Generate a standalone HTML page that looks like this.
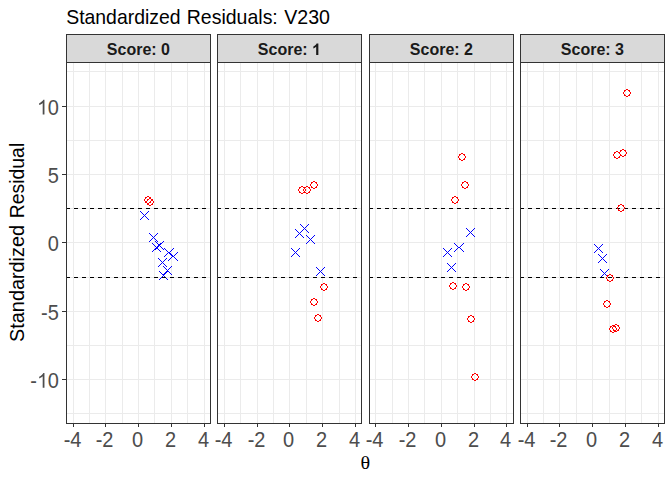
<!DOCTYPE html>
<html><head><meta charset="utf-8"><title>Standardized Residuals: V230</title>
<style>
html,body{margin:0;padding:0;background:#fff;}
svg{display:block;}
text{font-family:"Liberation Sans",sans-serif;}
.ax{font-size:21.6px;fill:#4d4d4d;}
.ti{font-size:21px;fill:#000;}
.st{font-size:16px;font-weight:bold;fill:#1a1a1a;text-anchor:middle;}
</style></head><body>
<svg width="672" height="480" viewBox="0 0 672 480">
<defs>
<path id="c" fill="#ff0000" shape-rendering="crispEdges" d="M-1-4h2v1h-2zM-3-3h2v1h-2zM1-3h2v1h-2zM-3-2h1v1h-1zM2-2h1v1h-1zM-4-1h1v2h-1zM3-1h1v2h-1zM-3 1h1v1h-1zM2 1h1v1h-1zM-3 2h2v1h-2zM1 2h2v1h-2zM-1 3h2v1h-2z"/>
<path id="x" fill="#0000ff" shape-rendering="crispEdges" d="M-4 -4h1v1h-1zM-4 4h1v1h-1zM-3 -3h1v1h-1zM-3 3h1v1h-1zM-2 -2h1v1h-1zM-2 2h1v1h-1zM-1 -1h1v1h-1zM-1 1h1v1h-1zM0 0h1v1h-1zM1 1h1v1h-1zM1 -1h1v1h-1zM2 2h1v1h-1zM2 -2h1v1h-1zM3 3h1v1h-1zM3 -3h1v1h-1zM4 4h1v1h-1zM4 -4h1v1h-1z"/>
<path id="x2" fill="#0000ff" shape-rendering="crispEdges" d="M0 0h2v1h-2zM-1 -1h1v1h-1zM-1 1h1v1h-1zM2 -1h1v1h-1zM2 1h1v1h-1zM-2 -2h1v1h-1zM-2 2h1v1h-1zM3 -2h1v1h-1zM3 2h1v1h-1zM-3 -3h1v1h-1zM-3 3h1v1h-1zM4 -3h1v1h-1zM4 3h1v1h-1zM-4 -4h1v1h-1zM-4 4h1v1h-1zM5 -4h1v1h-1zM5 4h1v1h-1z"/>
</defs>
<rect width="672" height="480" fill="#fff"/>
<g shape-rendering="crispEdges">
<rect x="66.5" y="34.5" width="144" height="28" fill="#d9d9d9" stroke="#333" stroke-width="1"/>
<rect x="66" y="62" width="145" height="362" fill="#fff"/>
<path fill="#ebebeb" d="M66 71h145v1h-145zM66 106h145v1h-145zM66 140h145v1h-145zM66 174h145v1h-145zM66 208h145v1h-145zM66 242h145v1h-145zM66 277h145v1h-145zM66 311h145v1h-145zM66 345h145v1h-145zM66 379h145v1h-145zM66 413h145v1h-145zM73 62h1v362h-1zM89 62h1v362h-1zM105 62h1v362h-1zM122 62h1v362h-1zM138 62h1v362h-1zM154 62h1v362h-1zM171 62h1v362h-1zM187 62h1v362h-1zM204 62h1v362h-1z"/>
<use href="#x" x="144" y="215"/><use href="#x" x="153" y="237"/><use href="#x" x="156" y="247"/><use href="#x" x="159" y="245"/><use href="#x2" x="168" y="252"/><use href="#x2" x="172" y="256"/><use href="#x" x="162" y="262"/><use href="#x" x="167" y="270"/><use href="#x" x="163" y="275"/>
<path fill="#000" d="M66 208h4v1h-4zM74 208h4v1h-4zM82 208h4v1h-4zM90 208h4v1h-4zM98 208h4v1h-4zM106 208h4v1h-4zM114 208h4v1h-4zM122 208h4v1h-4zM130 208h4v1h-4zM138 208h4v1h-4zM146 208h4v1h-4zM154 208h4v1h-4zM162 208h4v1h-4zM170 208h4v1h-4zM178 208h4v1h-4zM186 208h4v1h-4zM194 208h4v1h-4zM202 208h4v1h-4zM210 208h1v1h-1zM66 277h4v1h-4zM74 277h4v1h-4zM82 277h4v1h-4zM90 277h4v1h-4zM98 277h4v1h-4zM106 277h4v1h-4zM114 277h4v1h-4zM122 277h4v1h-4zM130 277h4v1h-4zM138 277h4v1h-4zM146 277h4v1h-4zM154 277h4v1h-4zM162 277h4v1h-4zM170 277h4v1h-4zM178 277h4v1h-4zM186 277h4v1h-4zM194 277h4v1h-4zM202 277h4v1h-4zM210 277h1v1h-1z"/>
<use href="#c" x="148" y="200"/><use href="#c" x="150" y="202"/>
<rect x="66.5" y="62.5" width="144" height="361" fill="none" stroke="#333" stroke-width="1"/>
<path fill="#333" d="M73 424h1v3h-1zM105 424h1v3h-1zM138 424h1v3h-1zM171 424h1v3h-1zM204 424h1v3h-1z"/>
<rect x="217.5" y="34.5" width="144" height="28" fill="#d9d9d9" stroke="#333" stroke-width="1"/>
<rect x="217" y="62" width="145" height="362" fill="#fff"/>
<path fill="#ebebeb" d="M217 71h145v1h-145zM217 106h145v1h-145zM217 140h145v1h-145zM217 174h145v1h-145zM217 208h145v1h-145zM217 242h145v1h-145zM217 277h145v1h-145zM217 311h145v1h-145zM217 345h145v1h-145zM217 379h145v1h-145zM217 413h145v1h-145zM224 62h1v362h-1zM240 62h1v362h-1zM257 62h1v362h-1zM273 62h1v362h-1zM289 62h1v362h-1zM306 62h1v362h-1zM322 62h1v362h-1zM339 62h1v362h-1zM355 62h1v362h-1z"/>
<use href="#x" x="299" y="233"/><use href="#x" x="304" y="228"/><use href="#x" x="310" y="239"/><use href="#x" x="295" y="252"/><use href="#x" x="320" y="271"/>
<path fill="#000" d="M217 208h4v1h-4zM225 208h4v1h-4zM233 208h4v1h-4zM241 208h4v1h-4zM249 208h4v1h-4zM257 208h4v1h-4zM265 208h4v1h-4zM273 208h4v1h-4zM281 208h4v1h-4zM289 208h4v1h-4zM297 208h4v1h-4zM305 208h4v1h-4zM313 208h4v1h-4zM321 208h4v1h-4zM329 208h4v1h-4zM337 208h4v1h-4zM345 208h4v1h-4zM353 208h4v1h-4zM361 208h1v1h-1zM217 277h4v1h-4zM225 277h4v1h-4zM233 277h4v1h-4zM241 277h4v1h-4zM249 277h4v1h-4zM257 277h4v1h-4zM265 277h4v1h-4zM273 277h4v1h-4zM281 277h4v1h-4zM289 277h4v1h-4zM297 277h4v1h-4zM305 277h4v1h-4zM313 277h4v1h-4zM321 277h4v1h-4zM329 277h4v1h-4zM337 277h4v1h-4zM345 277h4v1h-4zM353 277h4v1h-4zM361 277h1v1h-1z"/>
<use href="#c" x="302" y="190"/><use href="#c" x="307" y="190"/><use href="#c" x="314" y="185"/><use href="#c" x="324" y="287"/><use href="#c" x="314" y="302"/><use href="#c" x="318" y="318"/>
<rect x="217.5" y="62.5" width="144" height="361" fill="none" stroke="#333" stroke-width="1"/>
<path fill="#333" d="M224 424h1v3h-1zM257 424h1v3h-1zM289 424h1v3h-1zM322 424h1v3h-1zM355 424h1v3h-1z"/>
<rect x="369.5" y="34.5" width="144" height="28" fill="#d9d9d9" stroke="#333" stroke-width="1"/>
<rect x="369" y="62" width="145" height="362" fill="#fff"/>
<path fill="#ebebeb" d="M369 71h145v1h-145zM369 106h145v1h-145zM369 140h145v1h-145zM369 174h145v1h-145zM369 208h145v1h-145zM369 242h145v1h-145zM369 277h145v1h-145zM369 311h145v1h-145zM369 345h145v1h-145zM369 379h145v1h-145zM369 413h145v1h-145zM375 62h1v362h-1zM392 62h1v362h-1zM408 62h1v362h-1zM424 62h1v362h-1zM441 62h1v362h-1zM457 62h1v362h-1zM474 62h1v362h-1zM490 62h1v362h-1zM506 62h1v362h-1z"/>
<use href="#x" x="470" y="232"/><use href="#x2" x="458" y="247"/><use href="#x" x="447" y="252"/><use href="#x" x="451" y="267"/>
<path fill="#000" d="M369 208h4v1h-4zM377 208h4v1h-4zM385 208h4v1h-4zM393 208h4v1h-4zM401 208h4v1h-4zM409 208h4v1h-4zM417 208h4v1h-4zM425 208h4v1h-4zM433 208h4v1h-4zM441 208h4v1h-4zM449 208h4v1h-4zM457 208h4v1h-4zM465 208h4v1h-4zM473 208h4v1h-4zM481 208h4v1h-4zM489 208h4v1h-4zM497 208h4v1h-4zM505 208h4v1h-4zM513 208h1v1h-1zM369 277h4v1h-4zM377 277h4v1h-4zM385 277h4v1h-4zM393 277h4v1h-4zM401 277h4v1h-4zM409 277h4v1h-4zM417 277h4v1h-4zM425 277h4v1h-4zM433 277h4v1h-4zM441 277h4v1h-4zM449 277h4v1h-4zM457 277h4v1h-4zM465 277h4v1h-4zM473 277h4v1h-4zM481 277h4v1h-4zM489 277h4v1h-4zM497 277h4v1h-4zM505 277h4v1h-4zM513 277h1v1h-1z"/>
<use href="#c" x="462" y="157"/><use href="#c" x="465" y="185"/><use href="#c" x="455" y="200"/><use href="#c" x="453" y="286"/><use href="#c" x="466" y="287"/><use href="#c" x="471" y="319"/><use href="#c" x="475" y="377"/>
<rect x="369.5" y="62.5" width="144" height="361" fill="none" stroke="#333" stroke-width="1"/>
<path fill="#333" d="M375 424h1v3h-1zM408 424h1v3h-1zM441 424h1v3h-1zM474 424h1v3h-1zM506 424h1v3h-1z"/>
<rect x="520.5" y="34.5" width="144" height="28" fill="#d9d9d9" stroke="#333" stroke-width="1"/>
<rect x="520" y="62" width="145" height="362" fill="#fff"/>
<path fill="#ebebeb" d="M520 71h145v1h-145zM520 106h145v1h-145zM520 140h145v1h-145zM520 174h145v1h-145zM520 208h145v1h-145zM520 242h145v1h-145zM520 277h145v1h-145zM520 311h145v1h-145zM520 345h145v1h-145zM520 379h145v1h-145zM520 413h145v1h-145zM527 62h1v362h-1zM543 62h1v362h-1zM559 62h1v362h-1zM576 62h1v362h-1zM592 62h1v362h-1zM609 62h1v362h-1zM625 62h1v362h-1zM641 62h1v362h-1zM658 62h1v362h-1z"/>
<use href="#x" x="598" y="248"/><use href="#x" x="602" y="258"/><use href="#x" x="604" y="273"/>
<path fill="#000" d="M520 208h4v1h-4zM528 208h4v1h-4zM536 208h4v1h-4zM544 208h4v1h-4zM552 208h4v1h-4zM560 208h4v1h-4zM568 208h4v1h-4zM576 208h4v1h-4zM584 208h4v1h-4zM592 208h4v1h-4zM600 208h4v1h-4zM608 208h4v1h-4zM616 208h4v1h-4zM624 208h4v1h-4zM632 208h4v1h-4zM640 208h4v1h-4zM648 208h4v1h-4zM656 208h4v1h-4zM664 208h1v1h-1zM520 277h4v1h-4zM528 277h4v1h-4zM536 277h4v1h-4zM544 277h4v1h-4zM552 277h4v1h-4zM560 277h4v1h-4zM568 277h4v1h-4zM576 277h4v1h-4zM584 277h4v1h-4zM592 277h4v1h-4zM600 277h4v1h-4zM608 277h4v1h-4zM616 277h4v1h-4zM624 277h4v1h-4zM632 277h4v1h-4zM640 277h4v1h-4zM648 277h4v1h-4zM656 277h4v1h-4zM664 277h1v1h-1z"/>
<use href="#c" x="627" y="93"/><use href="#c" x="617" y="155"/><use href="#c" x="623" y="153"/><use href="#c" x="621" y="208"/><use href="#c" x="610" y="278"/><use href="#c" x="607" y="304"/><use href="#c" x="613" y="329"/><use href="#c" x="616" y="328"/>
<rect x="520.5" y="62.5" width="144" height="361" fill="none" stroke="#333" stroke-width="1"/>
<path fill="#333" d="M527 424h1v3h-1zM559 424h1v3h-1zM592 424h1v3h-1zM625 424h1v3h-1zM658 424h1v3h-1z"/>
<path fill="#333" d="M62 106h4v1h-4zM62 174h4v1h-4zM62 242h4v1h-4zM62 311h4v1h-4zM62 379h4v1h-4z"/>
</g>
<text class="ti" transform="translate(66.2,23.7)" textLength="114.3" lengthAdjust="spacingAndGlyphs">Standardized</text>
<text class="ti" transform="translate(186.8,23.7)" textLength="91.0" lengthAdjust="spacingAndGlyphs">Residuals:</text>
<text class="ti" transform="translate(284.2,23.7)" textLength="45.8" lengthAdjust="spacingAndGlyphs">V230</text>
<text class="st" x="138.4" y="55.0">Score: 0</text>
<text class="st" style="text-anchor:start" x="257.83" y="55.0">Score:</text>
<path fill="#1a1a1a" transform="translate(312.07,55.0) scale(0.0078125,-0.0078125)" d="M806 0H525V1059Q371 915 162 846V1101Q272 1137 401 1237.5Q530 1338 578 1472H806Z"/>
<text class="st" x="441.4" y="55.0">Score: 2</text>
<text class="st" x="592.4" y="55.0">Score: 3</text>
<text class="ax" text-anchor="end" transform="translate(58.9,114.5) scale(0.9259,1)">0</text>
<path fill="#4d4d4d" transform="translate(37.0,114.5) scale(0.009765625,-0.0101)" d="M763 0H583V1147Q518 1085 412.5 1023Q307 961 223 930V1104Q374 1175 487 1276Q600 1377 647 1472H763Z"/>
<text class="ax" text-anchor="end" transform="translate(58.9,182.7) scale(0.9259,1)">5</text>
<text class="ax" text-anchor="end" transform="translate(58.9,250.8) scale(0.9259,1)">0</text>
<text class="ax" text-anchor="end" transform="translate(58.9,319.6) scale(0.9259,1)">-5</text>
<text class="ax" text-anchor="end" transform="translate(58.9,387.8) scale(0.9259,1)">0</text>
<path fill="#4d4d4d" transform="translate(37.0,387.8) scale(0.009765625,-0.0101)" d="M763 0H583V1147Q518 1085 412.5 1023Q307 961 223 930V1104Q374 1175 487 1276Q600 1377 647 1472H763Z"/>
<text class="ax" text-anchor="end" transform="translate(37.0,387.8) scale(0.9259,1)">-</text>
<text class="ax" text-anchor="middle" transform="translate(72.6,447.0) scale(0.9259,1)">-4</text>
<text class="ax" text-anchor="middle" transform="translate(104.6,447.0) scale(0.9259,1)">-2</text>
<text class="ax" text-anchor="middle" transform="translate(137.6,447.0) scale(0.9259,1)">0</text>
<text class="ax" text-anchor="middle" transform="translate(170.6,447.0) scale(0.9259,1)">2</text>
<text class="ax" text-anchor="middle" transform="translate(203.6,447.0) scale(0.9259,1)">4</text>
<text class="ax" text-anchor="middle" transform="translate(223.6,447.0) scale(0.9259,1)">-4</text>
<text class="ax" text-anchor="middle" transform="translate(256.6,447.0) scale(0.9259,1)">-2</text>
<text class="ax" text-anchor="middle" transform="translate(288.6,447.0) scale(0.9259,1)">0</text>
<text class="ax" text-anchor="middle" transform="translate(321.6,447.0) scale(0.9259,1)">2</text>
<text class="ax" text-anchor="middle" transform="translate(354.6,447.0) scale(0.9259,1)">4</text>
<text class="ax" text-anchor="middle" transform="translate(374.6,447.0) scale(0.9259,1)">-4</text>
<text class="ax" text-anchor="middle" transform="translate(407.6,447.0) scale(0.9259,1)">-2</text>
<text class="ax" text-anchor="middle" transform="translate(440.6,447.0) scale(0.9259,1)">0</text>
<text class="ax" text-anchor="middle" transform="translate(473.6,447.0) scale(0.9259,1)">2</text>
<text class="ax" text-anchor="middle" transform="translate(505.6,447.0) scale(0.9259,1)">4</text>
<text class="ax" text-anchor="middle" transform="translate(526.6,447.0) scale(0.9259,1)">-4</text>
<text class="ax" text-anchor="middle" transform="translate(558.6,447.0) scale(0.9259,1)">-2</text>
<text class="ax" text-anchor="middle" transform="translate(591.6,447.0) scale(0.9259,1)">0</text>
<text class="ax" text-anchor="middle" transform="translate(624.6,447.0) scale(0.9259,1)">2</text>
<text class="ax" text-anchor="middle" transform="translate(657.6,447.0) scale(0.9259,1)">4</text>
<text transform="translate(365.3,469) scale(1.03,1)" text-anchor="middle" style="font-family:'Liberation Serif',serif;font-size:19.6px;fill:#000">θ</text>
<text class="ti" transform="translate(24.3,341.9) rotate(-90)" textLength="116.9" lengthAdjust="spacingAndGlyphs">Standardized</text>
<text class="ti" transform="translate(24.3,218.2) rotate(-90)" textLength="75.4" lengthAdjust="spacingAndGlyphs">Residual</text>
</svg>
</body></html>
